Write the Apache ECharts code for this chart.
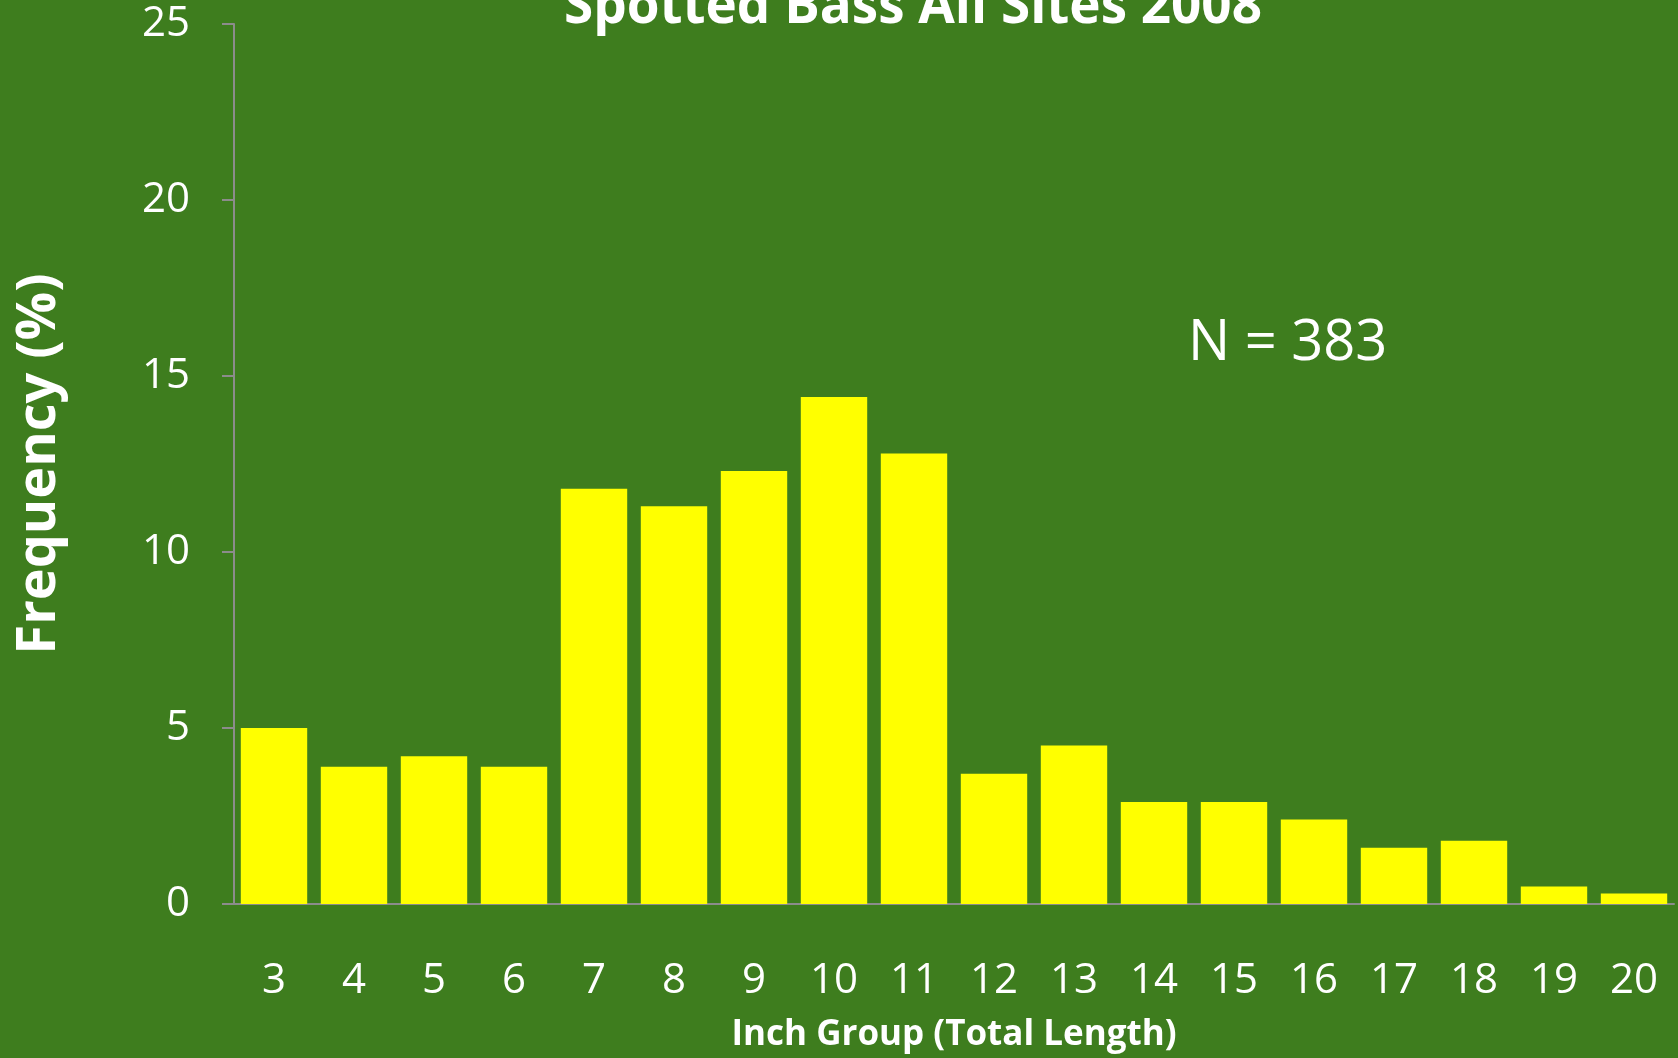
<!DOCTYPE html>
<html>
<head>
<meta charset="utf-8">
<script src="https://cdn.jsdelivr.net/npm/echarts@6/dist/echarts.min.js"></script>
<style>
html,body{margin:0;padding:0;background:#3E7D1E;}
#chart{width:1678px;height:1058px;}
</style>
</head>
<body>
<div id="chart"></div>
<script>
const categories = ['3','4','5','6','7','8','9','10','11','12','13','14','15','16','17','18','19','20'];
const frequency = [5.0, 3.9, 4.2, 3.9, 11.8, 11.3, 12.3, 14.4, 12.8, 3.7, 4.5, 2.9, 2.9, 2.4, 1.6, 1.8, 0.5, 0.3];
const yTicks = [0, 5, 10, 15, 20, 25];
const titleText = 'Spotted Bass All Sites 2008';
const noteText = 'N = 383';

const FONT = '"Open Sans", "Noto Sans", sans-serif';
const chart = echarts.init(document.getElementById('chart'), null, {renderer: 'canvas'});
chart.setOption({
  backgroundColor: '#3E7D1E',
  animation: false,
  title: {
    text: titleText,
    left: 559,
    top: -24,
    textStyle: {color: '#ffffff', fontFamily: FONT, fontWeight: 'bold', fontSize: 53}
  },
  graphic: [{
    type: 'text',
    left: 1188,
    top: 316,
    style: {text: noteText, fill: '#ffffff', font: '56px "Open Sans", "Noto Sans", sans-serif'}
  }],
  grid: {left: 234, right: 4, top: 24, bottom: 137, containLabel: false},
  xAxis: {
    type: 'category',
    data: categories,
    name: 'Inch Group (Total Length)',
    nameLocation: 'middle',
    nameGap: 114,
    nameTextStyle: {color: '#ffffff', fontFamily: FONT, fontWeight: 'bold', fontSize: 35},
    axisLine: {show: true, lineStyle: {color: '#8C8C8C', width: 2}},
    axisTick: {show: false},
    axisLabel: {color: '#ffffff', fontFamily: FONT, fontSize: 42, margin: 56},
    splitLine: {show: false}
  },
  yAxis: {
    type: 'value',
    min: yTicks[0],
    max: yTicks[yTicks.length - 1],
    interval: 5,
    name: 'Frequency (%)',
    nameLocation: 'middle',
    nameGap: 167,
    nameRotate: 90,
    nameTextStyle: {color: '#ffffff', fontFamily: FONT, fontWeight: 'bold', fontSize: 54},
    axisLine: {show: true, lineStyle: {color: '#8C8C8C', width: 2}},
    axisTick: {show: true, length: 12, lineStyle: {color: '#8C8C8C', width: 2}},
    axisLabel: {color: '#ffffff', fontFamily: FONT, fontSize: 42, margin: 44},
    splitLine: {show: false}
  },
  series: [{
    type: 'bar',
    data: frequency,
    barCategoryGap: '17%',
    itemStyle: {color: '#FFFF00'}
  }]
});
</script>
</body>
</html>
